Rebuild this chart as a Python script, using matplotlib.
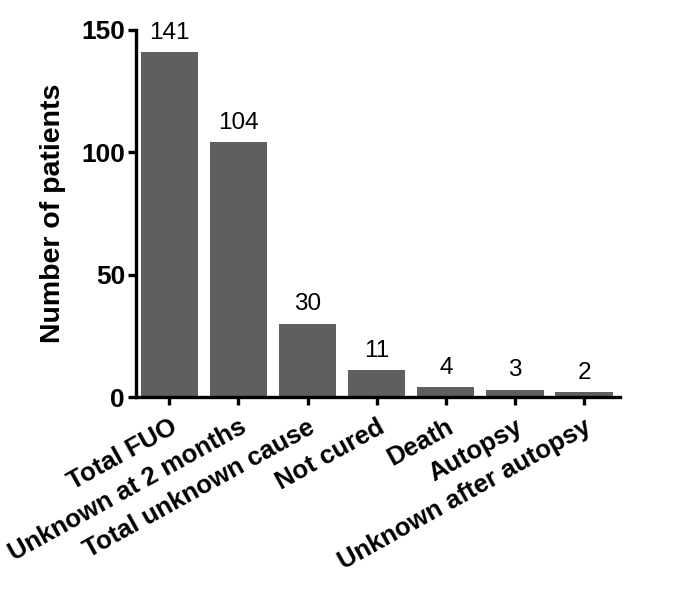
import numpy as np
import matplotlib as mpl
mpl.use('Agg')
import matplotlib.pyplot as plt

categories = ["Total FUO", "Unknown at 2 months", "Total unknown cause",
              "Not cured", "Death", "Autopsy", "Unknown after autopsy"]
counts = [141, 104, 30, 11, 4, 3, 2]
yticks = [0, 50, 100, 150]

plt.rcParams['font.family'] = ['Liberation Sans', 'DejaVu Sans']

fig = plt.figure(figsize=(6.95, 5.97), dpi=100)
ax = fig.add_axes([0.196, 0.335, 0.696, 0.615])

x = np.arange(len(categories))
bars = ax.bar(x, counts, width=0.83, color='#5f5f5f', edgecolor='none')

for xi, v in zip(x, counts):
    ax.annotate(str(v), (xi, v), xytext=(0, 6), textcoords='offset points',
                ha='center', va='bottom', fontsize=17.5)

ax.set_xlim(-0.48, len(categories) - 0.48)
ax.set_ylim(0, 150)
ax.set_yticks(yticks)
ax.set_xticks(x)
ax.set_xticklabels(categories, rotation=29, ha='right', rotation_mode='anchor',
                   fontsize=18.5, fontweight='bold')
for lbl in ax.get_yticklabels():
    lbl.set_fontsize(19)
    lbl.set_fontweight('bold')
ax.set_ylabel("Number of patients", fontsize=20.5, fontweight='bold', labelpad=11)

for s in ['top', 'right']:
    ax.spines[s].set_visible(False)
for s in ['left', 'bottom']:
    ax.spines[s].set_linewidth(2.4)
ax.tick_params(axis='both', width=2.4, length=6, direction='out', pad=2)
ax.tick_params(axis='x', pad=7)

fig.savefig("out.png", dpi=100)
